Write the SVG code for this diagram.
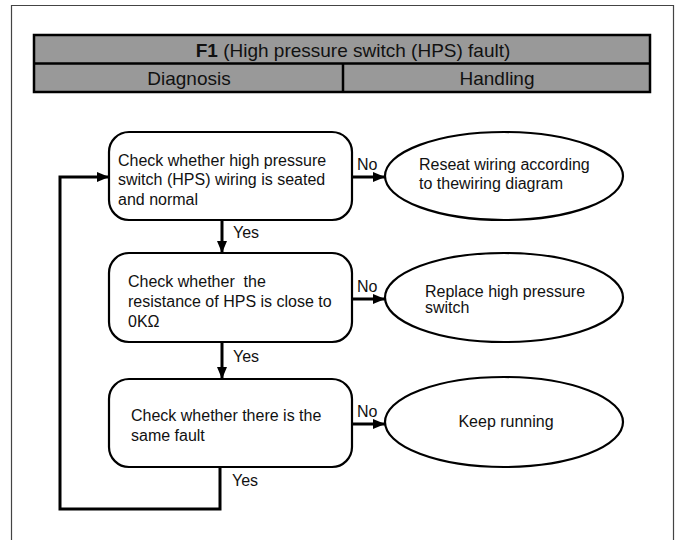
<svg xmlns="http://www.w3.org/2000/svg" width="681" height="540" viewBox="0 0 681 540">
<defs>
<marker id="ah" viewBox="0 0 12 10" refX="12" refY="5" markerWidth="12" markerHeight="10" markerUnits="userSpaceOnUse" orient="auto">
<path d="M0,0 L12,5 L0,10 Z" fill="#000"/>
</marker>
<style>
.t{font-family:"Liberation Sans",Arial,sans-serif;font-size:16px;fill:#111}
.h{font-family:"Liberation Sans",Arial,sans-serif;font-size:19px;fill:#111}
.box{fill:#fff;stroke:#000;stroke-width:2.2}
.hdr{fill:#999;stroke:#000;stroke-width:2.5}
.c{fill:none;stroke:#000;stroke-width:3}
</style>
</defs>
<rect x="0" y="0" width="681" height="540" fill="#fff"/>
<path d="M11.5,545 V5.5 H673.5 V545" fill="none" stroke="#444" stroke-width="1.2"/>
<g id="header">
<rect class="hdr" x="34" y="35" width="616" height="57"/>
<line x1="34" y1="63.5" x2="650" y2="63.5" stroke="#000" stroke-width="2.5"/>
<line x1="343" y1="63.5" x2="343" y2="92" stroke="#000" stroke-width="2.5"/>
<text class="h" x="353" y="57" text-anchor="middle"><tspan font-weight="bold">F1</tspan> (High pressure switch (HPS) fault)</text>
<text class="h" x="189" y="85" text-anchor="middle">Diagnosis</text>
<text class="h" x="497" y="85" text-anchor="middle">Handling</text>
</g>
<g id="connectors">
<line class="c" x1="352" y1="177" x2="385" y2="177" marker-end="url(#ah)"/>
<line class="c" x1="222" y1="220" x2="222" y2="253" marker-end="url(#ah)"/>
<line class="c" x1="352" y1="299" x2="385" y2="299" marker-end="url(#ah)"/>
<line class="c" x1="222" y1="342" x2="222" y2="379" marker-end="url(#ah)"/>
<line class="c" x1="352" y1="424" x2="385" y2="424" marker-end="url(#ah)"/>
<polyline class="c" points="220,467 220,509 60,509 60,177 109,177" marker-end="url(#ah)"/>
<text class="t" x="357" y="170">No</text>
<text class="t" x="357" y="292">No</text>
<text class="t" x="357" y="417">No</text>
<text class="t" x="233" y="238">Yes</text>
<text class="t" x="233" y="362">Yes</text>
<text class="t" x="232" y="486">Yes</text>
</g>
<g id="check-wiring">
<rect class="box" x="109" y="132" width="243" height="88" rx="20"/>
<text class="t" x="118" y="166">Check whether high pressure</text>
<text class="t" x="118" y="185">switch (HPS) wiring is seated</text>
<text class="t" x="118" y="205">and normal</text>
</g>
<g id="check-resistance">
<rect class="box" x="109" y="253" width="243" height="89" rx="20"/>
<text class="t" x="128" y="287" xml:space="preserve">Check whether  the</text>
<text class="t" x="128" y="307">resistance of HPS is close to</text>
<text class="t" x="128" y="327">0KΩ</text>
</g>
<g id="check-fault">
<rect class="box" x="109" y="379" width="243" height="88" rx="20"/>
<text class="t" x="131" y="421">Check whether there is the</text>
<text class="t" x="131" y="441">same fault</text>
</g>
<g id="reseat-wiring">
<ellipse class="box" cx="504" cy="176" rx="119" ry="44"/>
<text class="t" x="419" y="170">Reseat wiring according</text>
<text class="t" x="419" y="189">to thewiring diagram</text>
</g>
<g id="replace-hps">
<ellipse class="box" cx="504" cy="297.5" rx="119" ry="44.5"/>
<text class="t" x="425" y="297">Replace high pressure</text>
<text class="t" x="425" y="313">switch</text>
</g>
<g id="keep-running">
<ellipse class="box" cx="504" cy="422" rx="119" ry="45"/>
<text class="t" x="506" y="427" text-anchor="middle">Keep running</text>
</g>
</svg>
